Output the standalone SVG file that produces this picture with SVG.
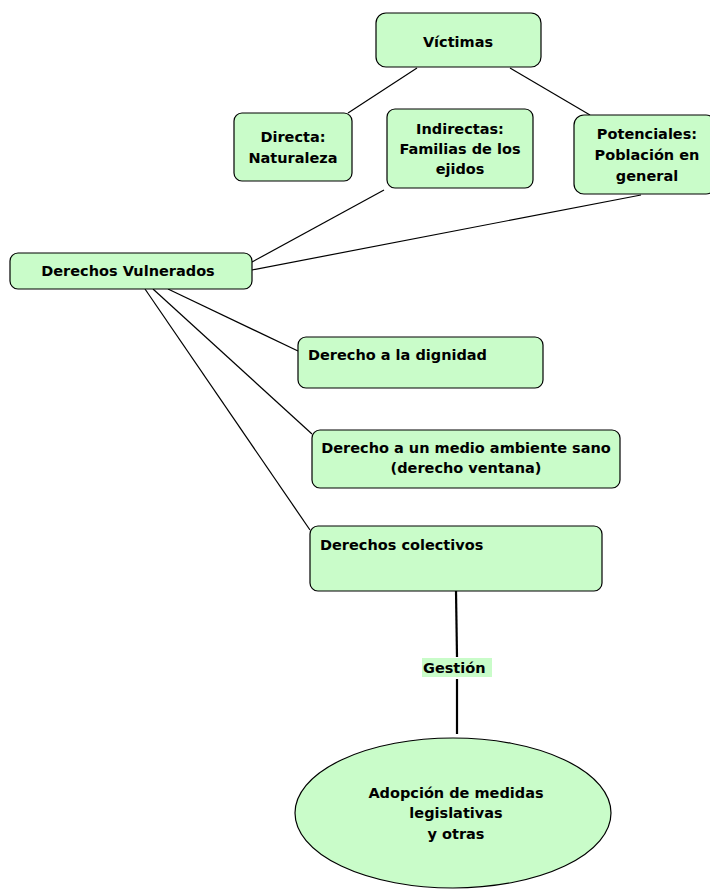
<svg xmlns="http://www.w3.org/2000/svg" width="710" height="890" viewBox="0 0 710 890">
<style>
.n{fill:#c9fcc9;stroke:#000;stroke-width:1.2}
.t{font-family:"DejaVu Sans",Verdana,sans-serif;font-weight:bold;font-size:14.5px;fill:#000}
.c{text-anchor:middle}
.l{stroke:#000;stroke-width:1.2;fill:none}
.k{stroke:#000;stroke-width:2.2;fill:none}
</style>
<rect width="710" height="890" fill="#fff"/>
<g id="connectors">
<line class="l" x1="417" y1="68" x2="348" y2="113"/>
<line class="l" x1="510" y1="68" x2="590" y2="115"/>
<line class="l" x1="384" y1="190" x2="252" y2="262"/>
<line class="l" x1="641" y1="195" x2="252" y2="270"/>
<line class="l" x1="168" y1="289" x2="298" y2="351"/>
<line class="l" x1="153" y1="289" x2="312" y2="434"/>
<line class="l" x1="145" y1="289" x2="310" y2="530"/>
<line class="k" x1="456" y1="591" x2="457" y2="657"/>
<line class="k" x1="457" y1="679" x2="457" y2="734"/>
<g id="label-gestion">
<rect x="422" y="658" width="70" height="19" fill="#c9fcc9"/>
<text class="t" x="423" y="673">Gestión</text>
</g>
</g>
<g id="victimas">
<rect class="n" x="376" y="13" width="165" height="54" rx="10"/>
<text class="t c" x="458" y="47">Víctimas</text>
</g>
<g id="directa">
<rect class="n" x="234" y="113" width="118" height="68" rx="8"/>
<text class="t c" x="293" y="142">Directa:</text>
<text class="t c" x="293" y="163">Naturaleza</text>
</g>
<g id="indirectas">
<rect class="n" x="387" y="109" width="146" height="79" rx="8"/>
<text class="t c" x="460" y="134">Indirectas:</text>
<text class="t c" x="460" y="154">Familias de los</text>
<text class="t c" x="460" y="174">ejidos</text>
</g>
<g id="potenciales">
<rect class="n" x="574" y="115" width="142" height="79" rx="10"/>
<text class="t c" x="647" y="139">Potenciales:</text>
<text class="t c" x="647" y="160">Población en</text>
<text class="t c" x="647" y="181">general</text>
</g>
<g id="derechos-vulnerados">
<rect class="n" x="10" y="253" width="242" height="36" rx="8"/>
<text class="t c" x="128" y="276">Derechos Vulnerados</text>
</g>
<g id="dignidad">
<rect class="n" x="298" y="337" width="245" height="51" rx="8"/>
<text class="t" x="308" y="360">Derecho a la dignidad</text>
</g>
<g id="medio-ambiente">
<rect class="n" x="312" y="430" width="308" height="58" rx="8"/>
<text class="t c" x="466" y="453">Derecho a un medio ambiente sano</text>
<text class="t c" x="466" y="473">(derecho ventana)</text>
</g>
<g id="colectivos">
<rect class="n" x="310" y="526" width="292" height="65" rx="8"/>
<text class="t" x="320" y="550">Derechos colectivos</text>
</g>
<g id="adopcion">
<ellipse class="n" cx="453" cy="813" rx="158" ry="75"/>
<text class="t c" x="456" y="798">Adopción de medidas</text>
<text class="t c" x="456" y="818">legislativas</text>
<text class="t c" x="456" y="839">y otras</text>
</g>
</svg>
